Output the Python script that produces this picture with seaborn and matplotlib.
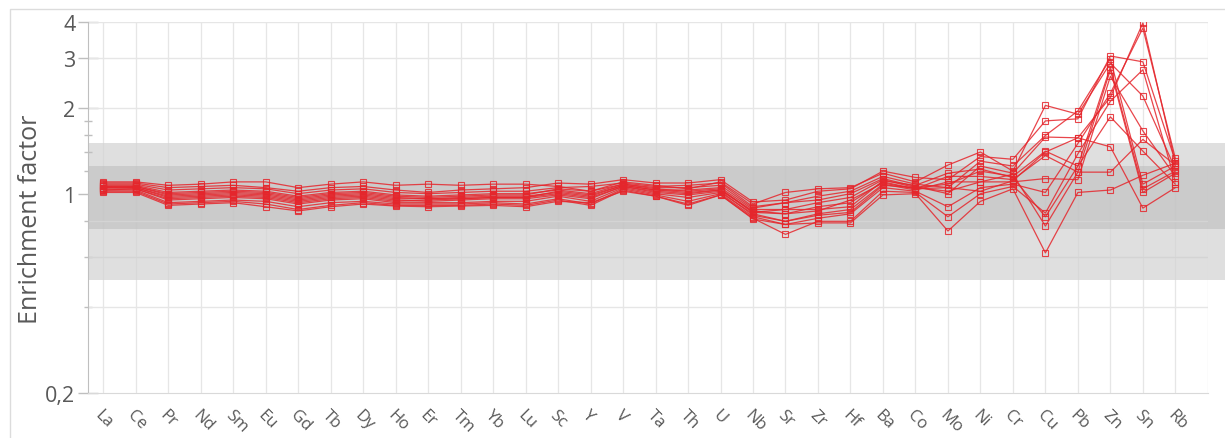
import numpy as np
import pandas as pd
import matplotlib
matplotlib.use("Agg")
import matplotlib.pyplot as plt
import seaborn as sns
from matplotlib.patches import Rectangle
from matplotlib.ticker import FixedLocator, NullFormatter

# ------------------------------------------------------------
# Data
# ------------------------------------------------------------
elements = ["La", "Ce", "Pr", "Nd", "Sm", "Eu", "Gd", "Tb", "Dy", "Ho", "Er", "Tm",
            "Yb", "Lu", "Sc", "Y", "V", "Ta", "Th", "U", "Nb", "Sr", "Zr", "Hf",
            "Ba", "Co", "Mo", "Ni", "Cr", "Cu", "Pb", "Zn", "Sn", "Rb"]

s0 = [1.10, 1.10, 1.07, 1.08, 1.10, 1.10, 1.05, 1.08, 1.10, 1.07, 1.08, 1.07, 1.08, 1.08, 1.06, 1.02, 1.10,
      1.07, 1.04, 1.10, 0.92, 1.01, 1.04, 1.05, 1.18, 1.10, 1.26, 1.40, 1.20, 2.04, 1.90, 2.87, 2.20, 1.22]
s1 = [1.09, 1.09, 1.05, 1.06, 1.07, 1.05, 1.02, 1.05, 1.06, 1.03, 1.01, 1.03, 1.04, 1.05, 1.09, 1.08, 1.12,
      1.09, 1.09, 1.12, 0.935, 0.95, 1.02, 1.04, 1.20, 1.14, 1.12, 1.35, 1.32, 1.80, 1.83, 3.04, 2.90, 1.30]
s2 = [1.08, 1.08, 1.03, 1.04, 1.05, 1.04, 1.00, 1.03, 1.04, 1.01, 1.00, 1.01, 1.02, 1.02, 1.05, 1.06, 1.09,
      1.06, 1.07, 1.09, 0.90, 0.93, 0.98, 1.02, 1.15, 1.08, 1.05, 1.30, 1.25, 1.60, 1.95, 2.97, 1.08, 1.25]
s3 = [1.07, 1.07, 1.01, 1.02, 1.03, 1.02, 0.98, 1.01, 1.02, 0.99, 0.98, 0.99, 1.00, 1.00, 1.03, 1.00, 1.08,
      1.05, 1.05, 1.07, 0.89, 0.93, 0.95, 1.00, 1.13, 1.06, 1.00, 1.25, 1.18, 1.58, 1.57, 2.18, 3.97, 1.28]
s4 = [1.06, 1.06, 0.99, 1.00, 1.01, 1.00, 0.96, 0.99, 1.00, 0.97, 0.96, 0.97, 0.98, 0.98, 1.01, 0.98, 1.07,
      1.03, 1.03, 1.05, 0.88, 0.88, 0.93, 0.97, 1.12, 1.05, 1.08, 1.20, 1.15, 1.41, 1.25, 2.78, 1.04, 1.20]
s5 = [1.05, 1.05, 0.97, 0.98, 0.99, 0.98, 0.94, 0.97, 0.98, 0.95, 0.94, 0.95, 0.96, 0.96, 0.99, 0.96, 1.06,
      1.02, 1.00, 1.03, 0.87, 0.85, 0.90, 0.93, 1.10, 1.04, 1.15, 1.15, 1.12, 1.36, 1.19, 2.72, 1.01, 1.18]
s6 = [1.04, 1.04, 0.95, 0.96, 0.97, 0.96, 0.92, 0.95, 0.96, 0.93, 0.93, 0.93, 0.94, 0.94, 0.98, 0.94, 1.05,
      1.00, 0.97, 1.01, 0.85, 0.80, 0.85, 0.88, 1.08, 1.03, 1.10, 1.10, 1.10, 1.13, 1.12, 2.58, 1.66, 1.15]
s7 = [1.03, 1.03, 0.93, 0.94, 0.95, 0.94, 0.90, 0.93, 0.94, 0.92, 0.92, 0.92, 0.93, 0.92, 0.96, 0.92, 1.04,
      0.99, 0.94, 1.00, 0.83, 0.78, 0.82, 0.85, 1.05, 1.02, 0.90, 1.05, 1.08, 1.01, 1.50, 2.25, 3.81, 1.33]
s8 = [1.02, 1.02, 0.92, 0.93, 0.94, 0.92, 0.88, 0.91, 0.93, 0.91, 0.91, 0.91, 0.92, 0.91, 0.95, 0.91, 1.03,
      0.98, 0.92, 0.99, 0.82, 0.72, 0.80, 0.80, 1.02, 1.01, 0.83, 1.00, 1.06, 0.855, 1.38, 2.11, 2.72, 1.10]
s9 = [1.01, 1.01, 0.91, 0.92, 0.93, 0.90, 0.87, 0.90, 0.92, 0.905, 0.90, 0.905, 0.91, 0.90, 0.94, 0.93, 1.02,
      0.98, 0.91, 0.99, 0.815, 0.78, 0.79, 0.79, 0.99, 1.00, 0.74, 0.94, 1.04, 0.62, 1.01, 1.03, 1.16, 1.28]
s10 = [1.05, 1.06, 1.00, 1.01, 1.02, 1.01, 0.97, 1.00, 1.01, 0.98, 0.97, 0.98, 0.99, 0.99, 1.04, 1.02, 1.08,
       1.04, 1.02, 1.04, 0.86, 0.88, 0.88, 0.90, 1.11, 1.07, 1.18, 1.22, 1.14, 0.83, 1.25, 1.86, 1.41, 1.08]
s11 = [1.03, 1.04, 0.96, 0.97, 0.98, 0.97, 0.93, 0.96, 0.97, 0.94, 0.95, 0.96, 0.97, 0.97, 1.00, 0.97, 1.06,
       1.01, 0.99, 1.02, 0.84, 0.80, 0.84, 0.86, 1.07, 1.05, 1.02, 1.10, 1.17, 0.77, 1.19, 1.19, 1.55, 1.26]
s12 = [1.06, 1.05, 0.98, 0.99, 1.00, 0.99, 0.95, 0.98, 0.99, 0.96, 0.96, 0.96, 0.97, 0.97, 1.02, 0.99, 1.07,
       1.03, 1.01, 1.03, 0.86, 0.85, 0.87, 0.95, 1.09, 1.04, 1.05, 1.02, 1.11, 1.40, 1.57, 1.46, 0.89, 1.05]

samples = [s0, s1, s2, s3, s4, s5, s6, s7, s8, s9, s10, s11, s12]

band_outer = (0.5, 1.5)
band_inner = (0.75, 1.25)

y_major = [0.2, 1, 2, 3, 4]
y_major_labels = ["0,2", "1", "2", "3", "4"]
y_minor = [0.4, 0.6, 0.8, 1.2, 1.4, 1.6, 1.8]

# ------------------------------------------------------------
# Long table for seaborn
# ------------------------------------------------------------
rows = []
for k, vals in enumerate(samples):
    for i, v in enumerate(vals):
        rows.append({"sample": k, "pos": i, "element": elements[i], "value": v})
df = pd.DataFrame(rows)

# ------------------------------------------------------------
# Plot
# ------------------------------------------------------------
sns.set_style("white")
plt.rcParams["font.family"] = ["Open Sans", "DejaVu Sans"]
text_col = "#595959"

fig = plt.figure(figsize=(12.25, 4.39), dpi=100)
ax = fig.add_axes([0.0718, 0.1025, 0.9142, 0.8451])

# chart frame
fig.patches.append(Rectangle((0.008, -0.05), 1.1, 1.028, transform=fig.transFigure,
                             fill=False, edgecolor="#dcdcdc", linewidth=1.0))

# bands
ax.axhspan(*band_outer, xmin=0, xmax=1.016, color="#dfdfdf", zorder=0.5, clip_on=False, lw=0)
ax.axhspan(*band_inner, xmin=0, xmax=1.016, color="#cbcbcb", zorder=0.6, clip_on=False, lw=0)

# grid
for g in [0.4, 0.6, 0.8, 2, 3, 4]:
    ax.axhline(g, color="#e6e6e6" if g > 1.5 or g < 0.5 else "#d4d4d4", lw=1.0, zorder=0.8)
for xi in range(len(elements) + 1):
    ax.axvline(xi, color="#f0f0f0", lw=1.0, zorder=0.4)
    ax.axvline(xi, color="#bdbdbd", lw=0.8, alpha=0.18, zorder=0.7)

sns.lineplot(data=df, x="pos", y="value", units="sample", estimator=None, ax=ax,
             color="#e5262c", lw=0.9, alpha=0.85, marker="s", ms=4.2,
             markerfacecolor="none", markeredgecolor="#e5262c", markeredgewidth=0.8,
             zorder=3, legend=False)

ax.set_yscale("log")
ax.set_ylim(0.2, 4)
ax.set_xlim(-0.47, len(elements))

ax.yaxis.set_major_locator(FixedLocator(y_major))
ax.set_yticklabels(y_major_labels)
ax.yaxis.set_minor_locator(FixedLocator(y_minor))
ax.yaxis.set_minor_formatter(NullFormatter())
ax.tick_params(axis="y", which="major", direction="inout", length=14, width=1,
               color="#bfbfbf", labelsize=15.5, labelcolor=text_col, pad=2, left=True)
ax.tick_params(axis="y", which="minor", direction="inout", length=6, width=1,
               color="#bfbfbf", left=True)

ax.set_xticks(range(len(elements)))
ax.set_xticklabels(elements, rotation=-45, ha="left", va="top", rotation_mode="anchor")
ax.tick_params(axis="x", length=0, labelsize=12, labelcolor=text_col, pad=10)

ax.set_xlabel("")
ax.set_ylabel("Enrichment factor", fontsize=18, color=text_col)
ax.yaxis.set_label_coords(-0.040, 0.47)

for side in ["top", "right"]:
    ax.spines[side].set_visible(False)
ax.spines["left"].set_color("#bfbfbf")
ax.spines["bottom"].set_color("#d9d9d9")

fig.savefig("out.png", dpi=100)
